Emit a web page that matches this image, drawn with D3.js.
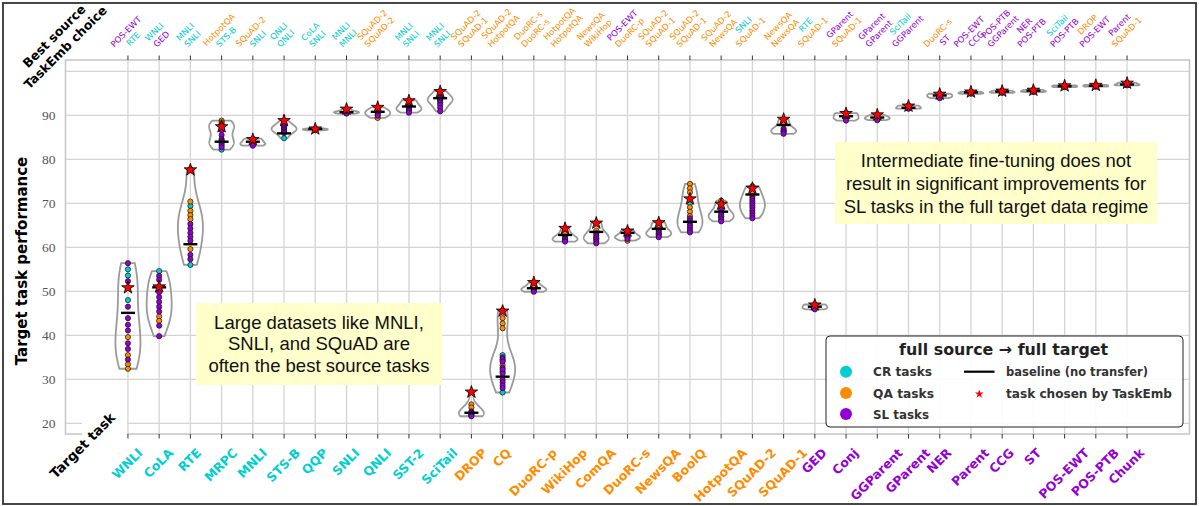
<!DOCTYPE html>
<html><head><meta charset="utf-8">
<script src="https://cdn.jsdelivr.net/npm/d3@7"></script>
<style>body{margin:0;background:#fff;} svg{display:block;}</style>
</head><body><svg id="chart" width="1199" height="506"></svg>
<script>
// ---------------- DATA ----------------
const targetTasks = ["WNLI","CoLA","RTE","MRPC","MNLI","STS-B","QQP","SNLI","QNLI","SST-2","SciTail",
  "DROP","CQ","DuoRC-p","WikiHop","ComQA","DuoRC-s","NewsQA","BoolQ","HotpotQA","SQuAD-2","SQuAD-1",
  "GED","Conj","GGParent","GParent","NER","Parent","CCG","ST","POS-EWT","POS-PTB","Chunk"];
const taskGroup = ["CR","CR","CR","CR","CR","CR","CR","CR","CR","CR","CR",
  "QA","QA","QA","QA","QA","QA","QA","QA","QA","QA","QA",
  "SL","SL","SL","SL","SL","SL","SL","SL","SL","SL","SL"];
const bestSource = ["POS-EWT","WNLI","MNLI","HotpotQA","SQuAD-2","QNLI","CoLA","MNLI","SQuAD-2","MNLI","MNLI",
  "SQuAD-2","SQuAD-2","DuoRC-s","HotpotQA","NewsQA","POS-EWT","SQuAD-2","SQuAD-2","SQuAD-2","SNLI","NewsQA",
  "RTE","GParent","GParent","SciTail","DuoRC-s","POS-EWT","POS-PTB","NER","SciTail","DROP","Parent"];
const taskEmbChoice = ["RTE","GED","SNLI","STS-B","SNLI","QNLI","SNLI","MNLI","SQuAD-2","SNLI","SNLI",
  "SQuAD-1","HotpotQA","DuoRC-s","HotpotQA","WikiHop","DuoRC-p","SQuAD-1","SQuAD-1","NewsQA","SQuAD-1","NewsQA",
  "SQuAD-1","SQuAD-1","GParent","GGParent","ST","CCG","GGParent","POS-PTB","POS-PTB","POS-EWT","SQuAD-1"];
const baselineScore = [45.1,50.9,60.7,84.0,84.0,85.9,86.9,90.7,90.8,92.0,93.9,
  22.4,30.6,50.7,62.8,63.5,63.3,64.2,65.8,68.1,72.0,87.8,
  46.5,89.8,89.5,91.7,94.5,95.2,95.4,95.6,96.6,96.7,97.0];
const taskEmbScore = [50.8,51.0,77.6,87.4,84.5,88.8,86.9,91.4,91.8,93.3,95.4,
  27.1,45.5,52.0,64.3,65.5,63.7,65.6,71.0,69.8,73.4,89.1,
  46.9,90.4,90.1,92.1,94.8,95.3,95.5,95.7,96.7,96.8,97.3];
// transfer results per target task, split by source-task group
const crSourceScores = [
  [55.0,53.6,50.8,48.0],[54.6],[77.8,77.6,69.4,56.0],[87.4,82.2],[84.5],[88.8,84.8],[87.0,86.9],[91.4,90.9],[90.9],[93.4,93.3,92.4],[95.5,95.4,94.3],
  [22.1],[35.5,31.7,27.0],[50.5],[61.8],[62.0],[62.4],[63.0],[70.0],[67.0],[73.9],[86.4],
  [47.0],[89.6],[89.4],[92.2],[94.4],[95.0],[95.2],[95.4],[96.8],[96.6],[96.9]];
const qaSourceScores = [
  [39.6,35.5,33.4,32.4],[44.3,43.3],[70.4,68.3,67.3,66.4,59.6],[88.8,88.4,88.0],[84.7],[87.2],[86.8],[90.8],[91.8,89.4],[91.9],[93.8],
  [27.1,24.3,23.6],[45.7,45.5,43.9,42.7,41.6,34.3,33.2],[52.0,51.0],[64.3,63.2],[65.6,65.5,63.8],[63.7,61.5],[65.7,65.6,64.6],[74.4,73.4,72.5,71.0,69.1,68.1,67.1],[70.6,69.8],[73.4,72.6],[89.1,88.3],
  [46.9],[90.4],[89.7],[91.6],[94.9],[95.1],[95.3],[95.5],[96.4],[96.9],[97.3]];
const slSourceScores = [
  [56.4,52.3,46.5,43.9,42.4,41.1,38.2,36.9,34.5],[53.5,52.6,51.0,49.8,48.7,47.6,46.5,45.4,42.2,39.8],[65.3,64.3,63.3,62.4,61.5,58.3,57.3],
  [87.8,87.0,86.6,85.5,84.6,84.3,83.9,83.5,83.1,82.7],[83.9,83.6,83.3,83.1],[87.9,87.4,87.0,86.6,86.3,86.0],[86.7,86.6],[90.7,90.5,90.4],
  [91.2,90.6,90.2,89.9],[91.7,91.3,91.0,90.6],[94.0,93.6,93.3,92.9,92.4,91.7,90.9],
  [22.7,22.4,22.0,21.8,21.6],[35.0,34.6,34.0,32.6,32.2,31.3,29.9,29.3,28.6,28.0],[50.3,49.9],[62.4,62.0,61.6,61.3],[63.2,62.7,62.3,61.8,61.3,60.9],
  [63.9,62.9,62.5,62.2,61.9],[63.9,63.5,63.1,62.7,62.3],[66.6,66.0,65.4,64.9,64.4,63.9,63.4],[68.6,67.9,67.4,66.9,66.4,65.9],
  [71.5,71.0,70.5,70.0,69.5,69.0,68.4,67.8,67.2,66.6],[87.0,86.6,86.2,85.8],
  [46.4,46.2,45.9],[90.5,89.3,88.8],[90.1,89.2,88.9],[92.1,91.8,91.5],[94.8,94.2,93.9],[95.4,95.3,94.9],[95.6,95.5,95.1],[95.8,95.7,95.3],[96.7,96.5],[96.8,96.5],[97.4,97.0,96.8]];
const yTickValues = [20,30,40,50,60,70,80,90];
const yGridValues = [20,30,40,50,60,70,80,90,100];
const groupNames = ["CR","QA","SL"];
const groupColors = ["#00ced1","#ff8c00","#9400d3"];
const legendLabels = ["CR tasks","QA tasks","SL tasks"];

// ---------------- CHART ----------------
const svg = d3.select("#chart");
const color = d3.scaleOrdinal().domain(groupNames).range(groupColors);
const groupOf = name => taskGroup[targetTasks.indexOf(name)];
const x = d3.scaleLinear().domain([-2, 34]).range([65.5, 1189.5]);
const y = d3.scaleLinear().domain([17.57, 102.57]).range([434, 60]);
const idx = d3.range(targetTasks.length);
const SANS = "'DejaVu Sans', sans-serif";
const C45 = Math.SQRT1_2;

svg.append("rect").attr("width",1199).attr("height",506).attr("fill","#fff");

// grid
svg.append("g").selectAll("line").data(yGridValues).join("line")
  .attr("x1",65.5).attr("x2",1189.5).attr("y1",d=>y(d)).attr("y2",d=>y(d))
  .attr("stroke","#d4d4d4").attr("stroke-width",1.3);
svg.append("g").selectAll("line").data(idx).join("line")
  .attr("x1",d=>x(d)).attr("x2",d=>x(d)).attr("y1",60).attr("y2",434)
  .attr("stroke","#d4d4d4").attr("stroke-width",1.3);
// spines
svg.append("rect").attr("x",65.5).attr("y",60).attr("width",1124).attr("height",374)
  .attr("fill","none").attr("stroke","#c8c8c8").attr("stroke-width",1.6);
// ticks
const tk = svg.append("g").attr("stroke","#333").attr("stroke-width",1);
tk.selectAll(".tb").data(idx).join("line").attr("class","tb")
  .attr("x1",d=>x(d)).attr("x2",d=>x(d)).attr("y1",434).attr("y2",438.5);
tk.selectAll(".tt").data(idx).join("line").attr("class","tt")
  .attr("x1",d=>x(d)).attr("x2",d=>x(d)).attr("y1",60).attr("y2",55.5);
// y tick labels
svg.append("g").selectAll("text").data(yTickValues).join("text")
  .attr("x",55.5).attr("y",d=>y(d)).attr("dy","0.35em").attr("text-anchor","end")
  .attr("font-family","'Liberation Serif', 'DejaVu Serif', serif").attr("font-size",13.5)
  .attr("fill","#555").text(d=>d);

// annotation boxes
function noteBox(x0, y0, w, h, lines, lh, base) {
  const g = svg.append("g");
  g.append("rect").attr("x",x0).attr("y",y0).attr("width",w).attr("height",h).attr("fill","#ffffcc");
  g.selectAll("text").data(lines).join("text")
    .attr("x",x0 + w/2).attr("y",(d,i)=>base + i*lh).attr("text-anchor","middle")
    .attr("font-family","'Liberation Sans', Arial, sans-serif").attr("font-size",18.5)
    .attr("fill","#111").text(d=>d);
}
noteBox(196, 303, 246, 82, ["Large datasets like MNLI,","SNLI, and SQuAD are","often the best source tasks"], 21.7, 328.5);
noteBox(835, 142, 322, 82, ["Intermediate fine-tuning does not","result in significant improvements for","SL tasks in the full target data regime"], 23.2, 166.5);

// violins
const HALF = 12.5;
idx.forEach(i => {
  const vals = [...crSourceScores[i], ...qaSourceScores[i], ...slSourceScores[i]];
  const n = vals.length;
  const sd = d3.deviation(vals) || 0.1;
  const bw = sd * Math.pow(n, -0.2);
  const lo = d3.min(vals), hi = d3.max(vals);
  const pts = d3.range(100).map(k => {
    const v = lo + (hi - lo) * k / 99;
    const dens = d3.sum(vals, u => Math.exp(-0.5 * ((v - u) / bw) ** 2));
    return {v, dens};
  });
  const w = d3.scaleLinear().domain([0, d3.max(pts, p => p.dens)]).range([0, HALF]);
  const area = d3.area().y(p => y(p.v)).x0(p => x(i) - w(p.dens)).x1(p => x(i) + w(p.dens));
  svg.append("path").attr("d", area(pts) + "Z").attr("fill","none")
    .attr("stroke","#9a9a9a").attr("stroke-width",1.8);
});

// dots
const dotData = [];
idx.forEach(i => {
  crSourceScores[i].forEach(v => dotData.push({i, v, g:"CR"}));
  qaSourceScores[i].forEach(v => dotData.push({i, v, g:"QA"}));
  slSourceScores[i].forEach(v => dotData.push({i, v, g:"SL"}));
});
svg.append("g").selectAll("circle").data(dotData).join("circle")
  .attr("cx",d=>x(d.i)).attr("cy",d=>y(d.v)).attr("r",2.6)
  .attr("fill",d=>color(d.g)).attr("stroke","#111").attr("stroke-width",0.7);

// baselines
svg.append("g").selectAll("line").data(idx).join("line")
  .attr("x1",i=>x(i)-7).attr("x2",i=>x(i)+7).attr("y1",i=>y(baselineScore[i])).attr("y2",i=>y(baselineScore[i]))
  .attr("stroke","#000").attr("stroke-width",2.4);

// stars
const starR = 6.6;
const star = d3.symbol().type(d3.symbolStar).size(starR*starR/0.8908130915292852);
svg.append("g").selectAll("path").data(idx).join("path")
  .attr("transform",i=>`translate(${x(i)},${y(taskEmbScore[i])})`)
  .attr("d",star()).attr("fill","#ff0000").attr("stroke","#000").attr("stroke-width",0.8);

// x-axis labels (bottom): rotated 45deg, box centred on tick, top at y=447
const BF = 12.5;
idx.forEach(i => {
  const g = svg.append("g");
  const t = g.append("text").attr("text-anchor","middle")
    .attr("font-family",SANS).attr("font-weight","bold").attr("font-size",BF)
    .attr("fill",color(taskGroup[i])).text(targetTasks[i]);
  const L = t.node().getComputedTextLength();
  const a = 0.76*BF, dsc = 0.22*BF;
  const minX = C45*(-L/2 - a), maxX = C45*(L/2 + dsc), minY = C45*(-a - L/2);
  g.attr("transform",`translate(${x(i) - (minX+maxX)/2},${447 - minY}) rotate(-45)`);
});
// top labels (best source / TaskEmb choice): box centred on tick, bottom at y=49
const TF = 8.5, LS = 10.2;
idx.forEach(i => {
  const g = svg.append("g");
  const names = [bestSource[i], taskEmbChoice[i]];
  let minX = Infinity, maxX = -Infinity, maxY = -Infinity;
  names.forEach((name, k) => {
    const t = g.append("text").attr("x",0).attr("y",k*LS).attr("text-anchor","middle")
      .attr("font-family",SANS).attr("font-size",TF)
      .attr("fill",color(groupOf(name))).text(name);
    const L = t.node().getComputedTextLength();
    const yk = k*LS, a = 0.76*TF, dsc = 0.22*TF;
    minX = Math.min(minX, C45*(-L/2 + yk - a));
    maxX = Math.max(maxX, C45*(L/2 + yk + dsc));
    maxY = Math.max(maxY, C45*(yk + dsc + L/2));
  });
  g.attr("transform",`translate(${x(i) - 1.5 - (minX+maxX)/2},${49 - maxY}) rotate(-45)`);
});

// y-axis title
svg.append("text").attr("transform","translate(27,261) rotate(-90)").attr("text-anchor","middle")
  .attr("font-family",SANS).attr("font-weight","bold").attr("font-size",15)
  .attr("fill","#000").text("Target task performance");

// corner labels
svg.append("rect").attr("x",82).attr("y",416).attr("width",45).attr("height",21).attr("fill","#fff");
svg.append("text").attr("transform","translate(82.5,445.5) rotate(-45)").attr("text-anchor","middle")
  .attr("dy","0.35em").attr("font-family",SANS).attr("font-weight","bold").attr("font-size",13.5)
  .attr("fill","#000").text("Target task");
const cg = svg.append("g").attr("transform","translate(60,42) rotate(-45)");
cg.append("text").attr("y",-4).attr("text-anchor","middle").attr("font-family",SANS).attr("font-weight","bold")
  .attr("font-size",12.5).attr("fill","#000").text("Best source");
cg.append("text").attr("y",12).attr("text-anchor","middle").attr("font-family",SANS).attr("font-weight","bold")
  .attr("font-size",12.5).attr("fill","#000").text("TaskEmb choice");

// legend
const lg = svg.append("g");
lg.append("rect").attr("x",826).attr("y",336).attr("width",357).attr("height",91).attr("rx",4)
  .attr("fill","#fff").attr("fill-opacity",0.9).attr("stroke","#222").attr("stroke-width",1);
lg.append("text").attr("x",1003.6).attr("y",355).attr("text-anchor","middle")
  .attr("font-family",SANS).attr("font-weight","bold").attr("font-size",16).attr("fill","#222")
  .attr("textLength",209).attr("lengthAdjust","spacingAndGlyphs").text("full source \u2192 full target");
const legendWidths = [59, 61, 56];
groupNames.forEach((gname, k) => {
  const cy = 371.7 + k*21.2;
  lg.append("circle").attr("cx",846).attr("cy",cy).attr("r",6).attr("fill",color(gname));
  lg.append("text").attr("x",873).attr("y",cy+4.6).attr("font-family",SANS).attr("font-weight","bold")
    .attr("font-size",13).attr("fill","#333").attr("textLength",legendWidths[k]).attr("lengthAdjust","spacingAndGlyphs")
    .text(legendLabels[k]);
});
lg.append("line").attr("x1",964).attr("x2",994.5).attr("y1",371.7).attr("y2",371.7).attr("stroke","#000").attr("stroke-width",2.2);
lg.append("text").attr("x",1006).attr("y",376.3).attr("font-family",SANS).attr("font-weight","bold")
  .attr("font-size",13).attr("fill","#333").attr("textLength",142).attr("lengthAdjust","spacingAndGlyphs")
  .text("baseline (no transfer)");
lg.append("path").attr("transform","translate(979.3,394)")
  .attr("d",d3.symbol().type(d3.symbolStar).size(4.6*4.6/0.8908130915292852)()).attr("fill","#ff0000");
lg.append("text").attr("x",1006).attr("y",397.6).attr("font-family",SANS).attr("font-weight","bold")
  .attr("font-size",13).attr("fill","#333").attr("textLength",166).attr("lengthAdjust","spacingAndGlyphs")
  .text("task chosen by TaskEmb");

// figure border
svg.append("rect").attr("x",3).attr("y",3).attr("width",1193).attr("height",501)
  .attr("fill","none").attr("stroke","#333").attr("stroke-width",1.8);
</script></body></html>
